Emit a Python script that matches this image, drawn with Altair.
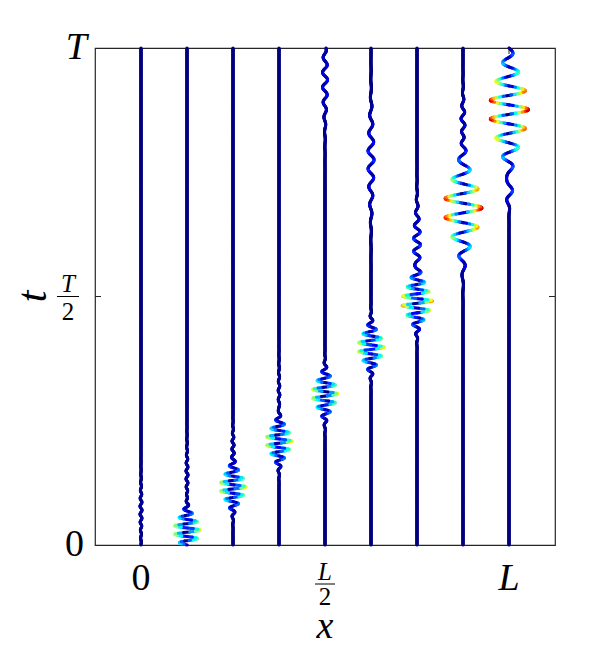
import altair as alt
import numpy as np
import pandas as pd

# horizontal position of the nine traces (fraction of L)
trace_x = [0, 0.125, 0.25, 0.375, 0.5, 0.625, 0.75, 0.875, 1.0]

# wave packets
# trace index, centre time (fraction of T), peak displacement (fraction of L),
# envelope width (fraction of T), oscillation period (fraction of T)
pk_trace = [1, 2, 3, 4, 5, 6, 7, 8,
            0, 1, 2, 3, 4, 5, 6, 7, 8]
pk_centre = [0.030, 0.117, 0.209, 0.304, 0.398, 0.491, 0.678, 0.876,
             0.070, 0.141, 0.201, 0.302, 0.936, 0.775, 0.604, 0.845, 0.712]
pk_amp = [0.0355, 0.0355, 0.0355, 0.0355, 0.0360, 0.0420, 0.0515, 0.0530,
          0.0027, 0.0027, 0.0027, 0.0022, 0.0070, 0.0083, 0.0097, 0.0054, 0.0100]
pk_width = [0.025, 0.026, 0.026, 0.027, 0.027, 0.030, 0.056, 0.064,
            0.040, 0.040, 0.024, 0.040, 0.056, 0.070, 0.050, 0.040, 0.020]
pk_period = [0.0171, 0.0171, 0.0171, 0.0181, 0.0181, 0.0191, 0.0390, 0.0382,
             0.0161, 0.0161, 0.0161, 0.0181, 0.0302, 0.0362, 0.0262, 0.0262, 0.0402]

# axis ticks and labels
x_ticks = [0, 0.5, 1]
x_tick_labels = ["0", "L/2", "L"]
y_ticks = [0, 0.5, 1]
y_tick_labels = ["0", "T/2", "T"]
x_title = "x"
y_title = "t"

# colour map (jet) and its top value
jet = ["#00007F", "#0000FF", "#007FFF", "#00FFFF", "#7FFF7F",
       "#FFFF00", "#FF7F00", "#FF0000", "#7F0000"]
colour_max = 0.055

# ---- build segments -------------------------------------------------------
t = np.linspace(0, 1, 761)
rows = []
for k, x0 in enumerate(trace_x):
    u = np.zeros_like(t)
    for tr, c, a, w, p in zip(pk_trace, pk_centre, pk_amp, pk_width, pk_period):
        if tr == k:
            u += a * np.exp(-((t - c) ** 2) / (2 * w * w)) * np.cos(2 * np.pi * (t - c) / p)
    xs = x0 + u
    for i in range(len(t) - 1):
        rows.append({"x": round(float(xs[i]), 5), "y": round(float(t[i]), 5),
                     "x2": round(float(xs[i + 1]), 5), "y2": round(float(t[i + 1]), 5),
                     "c": round(float(abs(0.5 * (u[i] + u[i + 1]))), 5)})
seg = pd.DataFrame(rows)

W, H = 460, 497
FONT = "Liberation Serif"
AX = "#262626"
xsc = alt.Scale(domain=[-0.125, 1.125], nice=False, zero=False)
ysc = alt.Scale(domain=[0, 1], nice=False, zero=False)

lines = alt.Chart(seg).mark_rule(strokeWidth=3.1, strokeCap="round").encode(
    x=alt.X("x:Q", scale=xsc, axis=None),
    y=alt.Y("y:Q", scale=ysc, axis=None),
    x2="x2:Q", y2="y2:Q",
    color=alt.Color("c:Q", legend=None,
                    scale=alt.Scale(domain=[colour_max * i / 8 for i in range(9)], range=jet,
                                    clamp=True)),
)

# inward ticks
xt = pd.DataFrame({"v": x_ticks})
yt = pd.DataFrame({"v": y_ticks[1:-1]})
tick_b = alt.Chart(xt).mark_rule(color=AX, strokeWidth=1).encode(
    x=alt.X("v:Q", scale=xsc, axis=None), y=alt.value(H), y2=alt.value(H - 6))
tick_t = alt.Chart(xt).mark_rule(color=AX, strokeWidth=1).encode(
    x=alt.X("v:Q", scale=xsc, axis=None), y=alt.value(0), y2=alt.value(6))
tick_l = alt.Chart(yt).mark_rule(color=AX, strokeWidth=1).encode(
    y=alt.Y("v:Q", scale=ysc, axis=None), x=alt.value(0), x2=alt.value(6))
tick_r = alt.Chart(yt).mark_rule(color=AX, strokeWidth=1).encode(
    y=alt.Y("v:Q", scale=ysc, axis=None), x=alt.value(W - 6), x2=alt.value(W))


def split_labels(ticks, labels):
    plain_up, plain_it, num, den = [], [], [], []
    for v, s in zip(ticks, labels):
        if "/" in s:
            a, b = s.split("/")
            num.append({"v": v, "s": a})
            den.append({"v": v, "s": b})
        elif s.isdigit():
            plain_up.append({"v": v, "s": s})
        else:
            plain_it.append({"v": v, "s": s})
    return [pd.DataFrame(d, columns=["v", "s"]) for d in (plain_up, plain_it, num, den)]


layers = [tick_b, tick_t, tick_l, tick_r, lines]

# x labels
xu, xi, xn, xd = split_labels(x_ticks, x_tick_labels)
for df, style, size, ypix in ((xu, "normal", 38, H + 34), (xi, "italic", 38, H + 34),
                              (xn, "italic", 25, H + 27), (xd, "normal", 25, H + 52)):
    if len(df):
        layers.append(alt.Chart(df).mark_text(font=FONT, fontSize=size, fontStyle=style,
                                              baseline="middle", align="center", color="black").encode(
            x=alt.X("v:Q", scale=xsc, axis=None), y=alt.value(ypix), text="s:N"))
if len(xn):
    layers.append(alt.Chart(xn).mark_rule(color="black", strokeWidth=1, xOffset=-10, x2Offset=10).encode(
        x=alt.X("v:Q", scale=xsc, axis=None), x2="v:Q", y=alt.value(H + 39)))

# y labels
yu, yi, yn, yd = split_labels(y_ticks, y_tick_labels)
for df, style, size, xpix, dy, al in ((yu, "normal", 38, -11, 0, "right"),
                                      (yi, "italic", 38, -8, 0, "right"),
                                      (yn, "italic", 25, -27, -13, "center"),
                                      (yd, "normal", 25, -27, 15, "center")):
    if len(df):
        layers.append(alt.Chart(df).mark_text(font=FONT, fontSize=size, fontStyle=style, dy=dy,
                                              baseline="middle", align=al, color="black").encode(
            y=alt.Y("v:Q", scale=ysc, axis=None), x=alt.value(xpix), text="s:N"))
if len(yn):
    layers.append(alt.Chart(yn).mark_rule(color="black", strokeWidth=1).encode(
        y=alt.Y("v:Q", scale=ysc, axis=None), x=alt.value(-38), x2=alt.value(-16)))

# titles
layers.append(alt.Chart(pd.DataFrame({"v": [0.5], "s": [x_title]})).mark_text(
    font=FONT, fontSize=38, fontStyle="italic", baseline="middle", align="center", color="black").encode(
    x=alt.X("v:Q", scale=xsc, axis=None), y=alt.value(H + 82), text="s:N"))
layers.append(alt.Chart(pd.DataFrame({"v": [0.5], "s": [y_title]})).mark_text(
    font=FONT, fontSize=42, fontStyle="italic", baseline="middle", align="center", angle=270,
    color="black").encode(
    y=alt.Y("v:Q", scale=ysc, axis=None), x=alt.value(-62), text="s:N"))

chart = alt.layer(*layers).properties(
    width=W, height=H,
    background="white",
    autosize=alt.AutoSizeParams(type="none"),
    padding={"left": 87, "top": 40, "right": 50, "bottom": 103},
).configure_view(stroke=AX, strokeWidth=1.2)

chart.save("out.html", embed_options={"renderer": "svg", "actions": False})
